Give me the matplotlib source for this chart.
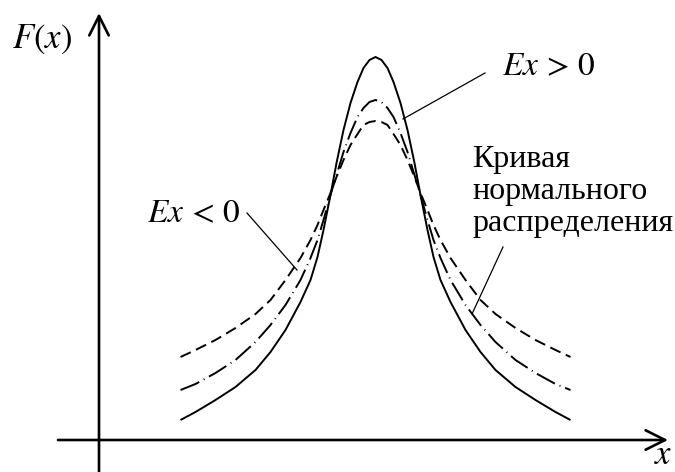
import matplotlib
matplotlib.use("Agg")
import matplotlib.pyplot as plt

plt.rcParams["mathtext.fontset"] = "stix"

# abscissa grid shared by all three density curves
x_vals = [-3.9, -3.6, -3.2, -2.8, -2.4, -2.1, -1.8, -1.5, -1.3, -1.16, -1.04,
          -0.9, -0.78, -0.64, -0.5, -0.36, -0.24, -0.12, 0.0,
          0.12, 0.24, 0.36, 0.5, 0.64, 0.78, 0.9, 1.04, 1.16, 1.3,
          1.5, 1.8, 2.1, 2.4, 2.8, 3.2, 3.6, 3.9]

# peaked curve, Ex > 0
f_peaked = [0.20, 0.28, 0.40, 0.53, 0.70, 0.88, 1.10, 1.38, 1.60, 1.83, 2.10,
            2.45, 2.77, 3.10, 3.37, 3.58, 3.72, 3.80, 3.83,
            3.80, 3.72, 3.58, 3.37, 3.10, 2.77, 2.45, 2.10, 1.83, 1.60,
            1.38, 1.10, 0.88, 0.70, 0.53, 0.40, 0.28, 0.20]

# normal distribution curve
f_normal = [0.50, 0.56, 0.67, 0.80, 0.98, 1.15, 1.35, 1.60, 1.82, 2.00, 2.20,
            2.45, 2.65, 2.88, 3.07, 3.23, 3.32, 3.38, 3.40,
            3.38, 3.32, 3.23, 3.07, 2.88, 2.65, 2.45, 2.20, 2.00, 1.82,
            1.60, 1.35, 1.15, 0.98, 0.80, 0.67, 0.56, 0.50]

# flat curve, Ex < 0
f_flat = [0.83, 0.90, 1.00, 1.12, 1.26, 1.40, 1.60, 1.82, 2.00, 2.15, 2.30,
          2.47, 2.63, 2.80, 2.95, 3.06, 3.15, 3.18, 3.19,
          3.18, 3.15, 3.06, 2.95, 2.80, 2.63, 2.47, 2.30, 2.15, 2.00,
          1.82, 1.60, 1.40, 1.26, 1.12, 1.00, 0.90, 0.83]

fig = plt.figure(figsize=(6.75, 4.72), dpi=100)
ax = fig.add_axes([0, 0, 1, 1])
ax.set_xlim(-7.51, 5.99)
ax.set_ylim(-0.32, 4.40)
ax.axis("off")

# coordinate axes with open arrowheads
arrow = dict(arrowstyle="->,head_length=1.4,head_width=0.7", lw=1.9,
             color="black", shrinkA=0, shrinkB=0)
ax.annotate("", xy=(5.85, 0), xytext=(-6.35, 0), arrowprops=arrow)
ax.annotate("", xy=(-5.53, 4.27), xytext=(-5.53, -0.32), arrowprops=arrow)

ax.plot(x_vals, f_peaked, color="black", lw=1.4, solid_capstyle="butt")
ax.plot(x_vals, f_normal, color="black", lw=1.4,
        linestyle=(0, (10.5, 2.6, 0.5, 2.6)))
ax.plot(x_vals, f_flat, color="black", lw=1.4, linestyle=(0, (5.8, 3.0)))

# leader lines from labels to curves
ax.plot([0.55, 2.19], [3.21, 3.67], color="black", lw=0.9)
ax.plot([-2.57, -1.57], [2.27, 1.70], color="black", lw=0.9)
ax.plot([2.55, 1.93], [1.93, 1.26], color="black", lw=0.9)

ax.text(-7.27, 3.92, r"$F(x)$", fontsize=25, va="baseline", ha="left")
ax.text(2.53, 3.65, r"$Ex\,>\,0$", fontsize=24, va="baseline", ha="left")
ax.text(-4.57, 2.18, r"$Ex\,<\,0$", fontsize=24, va="baseline", ha="left")
ax.text(5.57, -0.31, r"$x$", fontsize=25, va="bottom", ha="left")

for line, base in zip(["Кривая", "нормального", "распределения"],
                      [2.73, 2.41, 2.09]):
    ax.text(1.93, base, line, fontsize=23, family="Liberation Serif",
            va="baseline", ha="left")

fig.savefig("out.png", dpi=100)
